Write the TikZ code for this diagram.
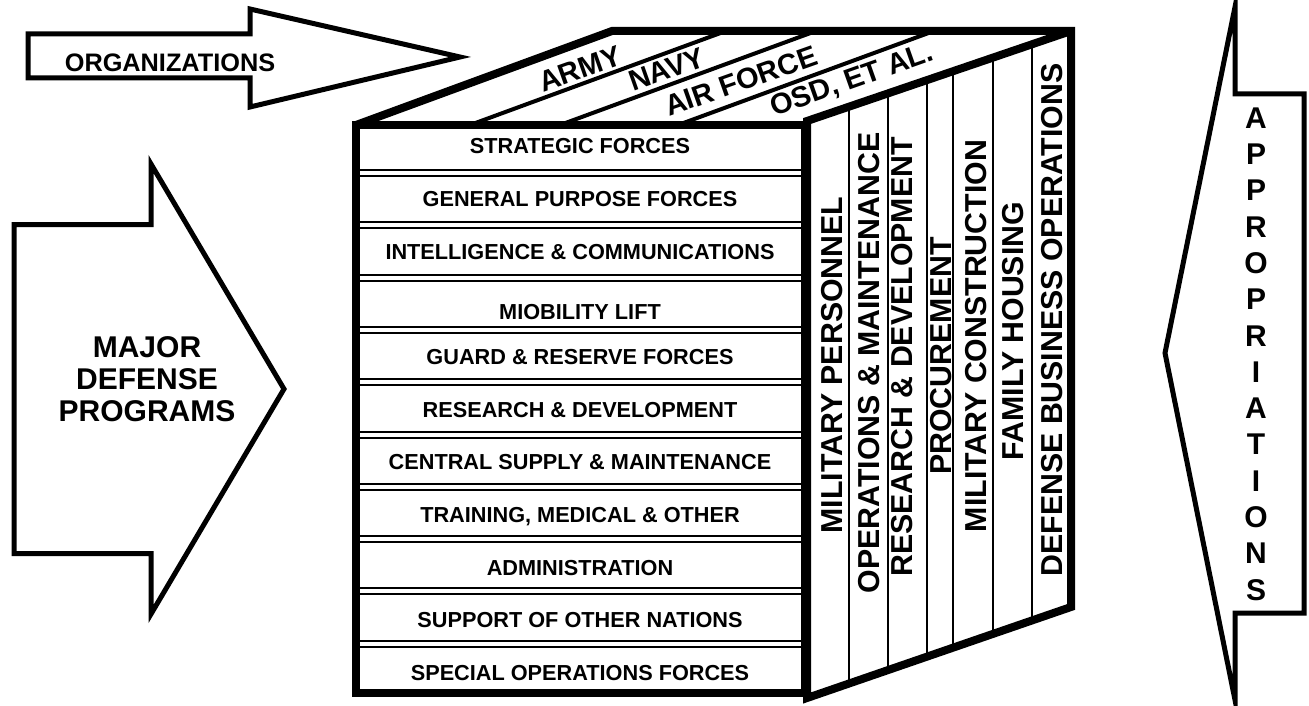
\documentclass[tikz,border=0pt]{standalone}
\usepackage{fontspec}
\setmainfont{Liberation Sans}
\usepackage{tikz}
\usetikzlibrary{calc,positioning}

\begin{document}
\begin{tikzpicture}
[
	x=1pt, y=-1pt,
	edge/.style = {line width=8pt, line join=miter},
	outline/.style = {line width=5pt, line join=miter, miter limit=25},
	strip/.style = {line width=4pt},
	divider/.style = {line width=2pt},
	separator/.style = {double, double distance=4pt, line width=2pt},
	row/.style = {inner sep=0pt, text height=15.5pt, text depth=0pt, font=\fontsize{21.7}{26}\selectfont\bfseries},
	org/.style = {inner sep=0pt, rotate=19.5, anchor=base west, font=\fontsize{29}{32}\selectfont\bfseries},
	account/.style = {inner sep=0pt, rotate=90, text height=21.7pt, text depth=0pt, font=\fontsize{30.3}{36}\selectfont\bfseries},
	banner/.style = {inner sep=0pt, align=center, font=\fontsize{30}{32}\selectfont\bfseries}
]

\useasboundingbox (0,0) rectangle (1309,706);

% corners of the cube
\coordinate (FL) at (356,125);
\coordinate (FR) at (805,693);
\coordinate (BL) at (612,31);
\coordinate (BR) at (1071,31);
\coordinate (SL) at (807,121);
\coordinate (SB) at (807,698);
\coordinate (SR) at (1071,607);

% program rows
\draw[separator] (356,173) -- (805,173);
\draw[separator] (356,225.3) -- (805,225.3);
\draw[separator] (356,277.6) -- (805,277.6);
\draw[separator] (356,329.9) -- (805,329.9);
\draw[separator] (356,382.2) -- (805,382.2);
\draw[separator] (356,434.5) -- (805,434.5);
\draw[separator] (356,486.8) -- (805,486.8);
\draw[separator] (356,539.1) -- (805,539.1);
\draw[separator] (356,591.4) -- (805,591.4);
\draw[separator] (356,643.7) -- (805,643.7);

% appropriation columns
\draw[divider] ($(SL)!0.159!(BR)$) -- ($(SB)!0.159!(SR)$);
\draw[divider] ($(SL)!0.307!(BR)$) -- ($(SB)!0.307!(SR)$);
\draw[divider] ($(SL)!0.455!(BR)$) -- ($(SB)!0.455!(SR)$);
\draw[divider] ($(SL)!0.553!(BR)$) -- ($(SB)!0.553!(SR)$);
\draw[divider] ($(SL)!0.705!(BR)$) -- ($(SB)!0.705!(SR)$);
\draw[divider] ($(SL)!0.852!(BR)$) -- ($(SB)!0.852!(SR)$);

% organization strips
\draw[strip] (470,125) -- (726,31);
\draw[strip] (560,125) -- (816,31);
\draw[strip] (678,125) -- (934,31);

% cube outline
\draw[edge] (FL) -- (BL) -- (BR) -- (SR) -- (SB) -- (SL) -- (BR);
\draw[edge] (FL) rectangle (FR);

% big arrows
\draw[outline] (28,34) -- (250,34) -- (250,9) -- (460,57) -- (250,107) -- (250,78) -- (28,78) -- cycle;
\draw[outline] (14,224.5) -- (151,224.5) -- (151,164) -- (284,389) -- (151,614) -- (151,553.5) -- (14,553.5) -- cycle;
\draw[outline] (1235,7) -- (1235,94) -- (1304,94) -- (1304,613) -- (1235,613) -- (1235,700) -- (1165,353) -- cycle;

\node[banner, font=\fontsize{25.3}{28}\selectfont\bfseries] (orgs) at (170,63) {ORGANIZATIONS};
\node[banner] (programs) at (147,379) {MAJOR\\DEFENSE\\PROGRAMS};
\node[banner, font=\fontsize{30}{36.3}\selectfont\bfseries] (approps) at (1256,354) {A\\P\\P\\R\\O\\P\\R\\I\\A\\T\\I\\O\\N\\S};

\node[org] (army) at (543,93) {ARMY};
\node[org] (navy) at (633,92) {NAVY};
\node[org] (airforce) at (669,117) {AIR FORCE};
\node[org] (osd) at (774,117) {OSD, ET AL.};

\node[row] (strategic) at (580,146) {STRATEGIC FORCES};
\node[row, below = 36.8pt of strategic] (general) {GENERAL PURPOSE FORCES};
\node[row, below = 36.8pt of general] (intel) {INTELLIGENCE \& COMMUNICATIONS};
\node[row, below = 44.9pt of intel] (mobility) {MIOBILITY LIFT};
\node[row, below = 28.5pt of mobility] (guard) {GUARD \& RESERVE FORCES};
\node[row, below = 36.8pt of guard] (research) {RESEARCH \& DEVELOPMENT};
\node[row, below = 36.8pt of research] (supply) {CENTRAL SUPPLY \& MAINTENANCE};
\node[row, below = 36.8pt of supply] (training) {TRAINING, MEDICAL \& OTHER};
\node[row, below = 36.8pt of training] (admin) {ADMINISTRATION};
\node[row, below = 36.8pt of admin] (support) {SUPPORT OF OTHER NATIONS};
\node[row, below = 36.8pt of support] (specialops) {SPECIAL OPERATIONS FORCES};

\node[account] (milpers) at (832,365) {MILITARY PERSONNEL};
\node[account] (opmaint) at (869,363) {OPERATIONS \& MAINTENANCE};
\node[account] (resdev) at (902,357) {RESEARCH \& DEVELOPMENT};
\node[account] (procure) at (941,356) {PROCUREMENT};
\node[account] (milcon) at (976,336) {MILITARY CONSTRUCTION};
\node[account] (housing) at (1013,331) {FAMILY HOUSING};
\node[account] (business) at (1052,320) {DEFENSE BUSINESS OPERATIONS};

\end{tikzpicture}
\end{document}
